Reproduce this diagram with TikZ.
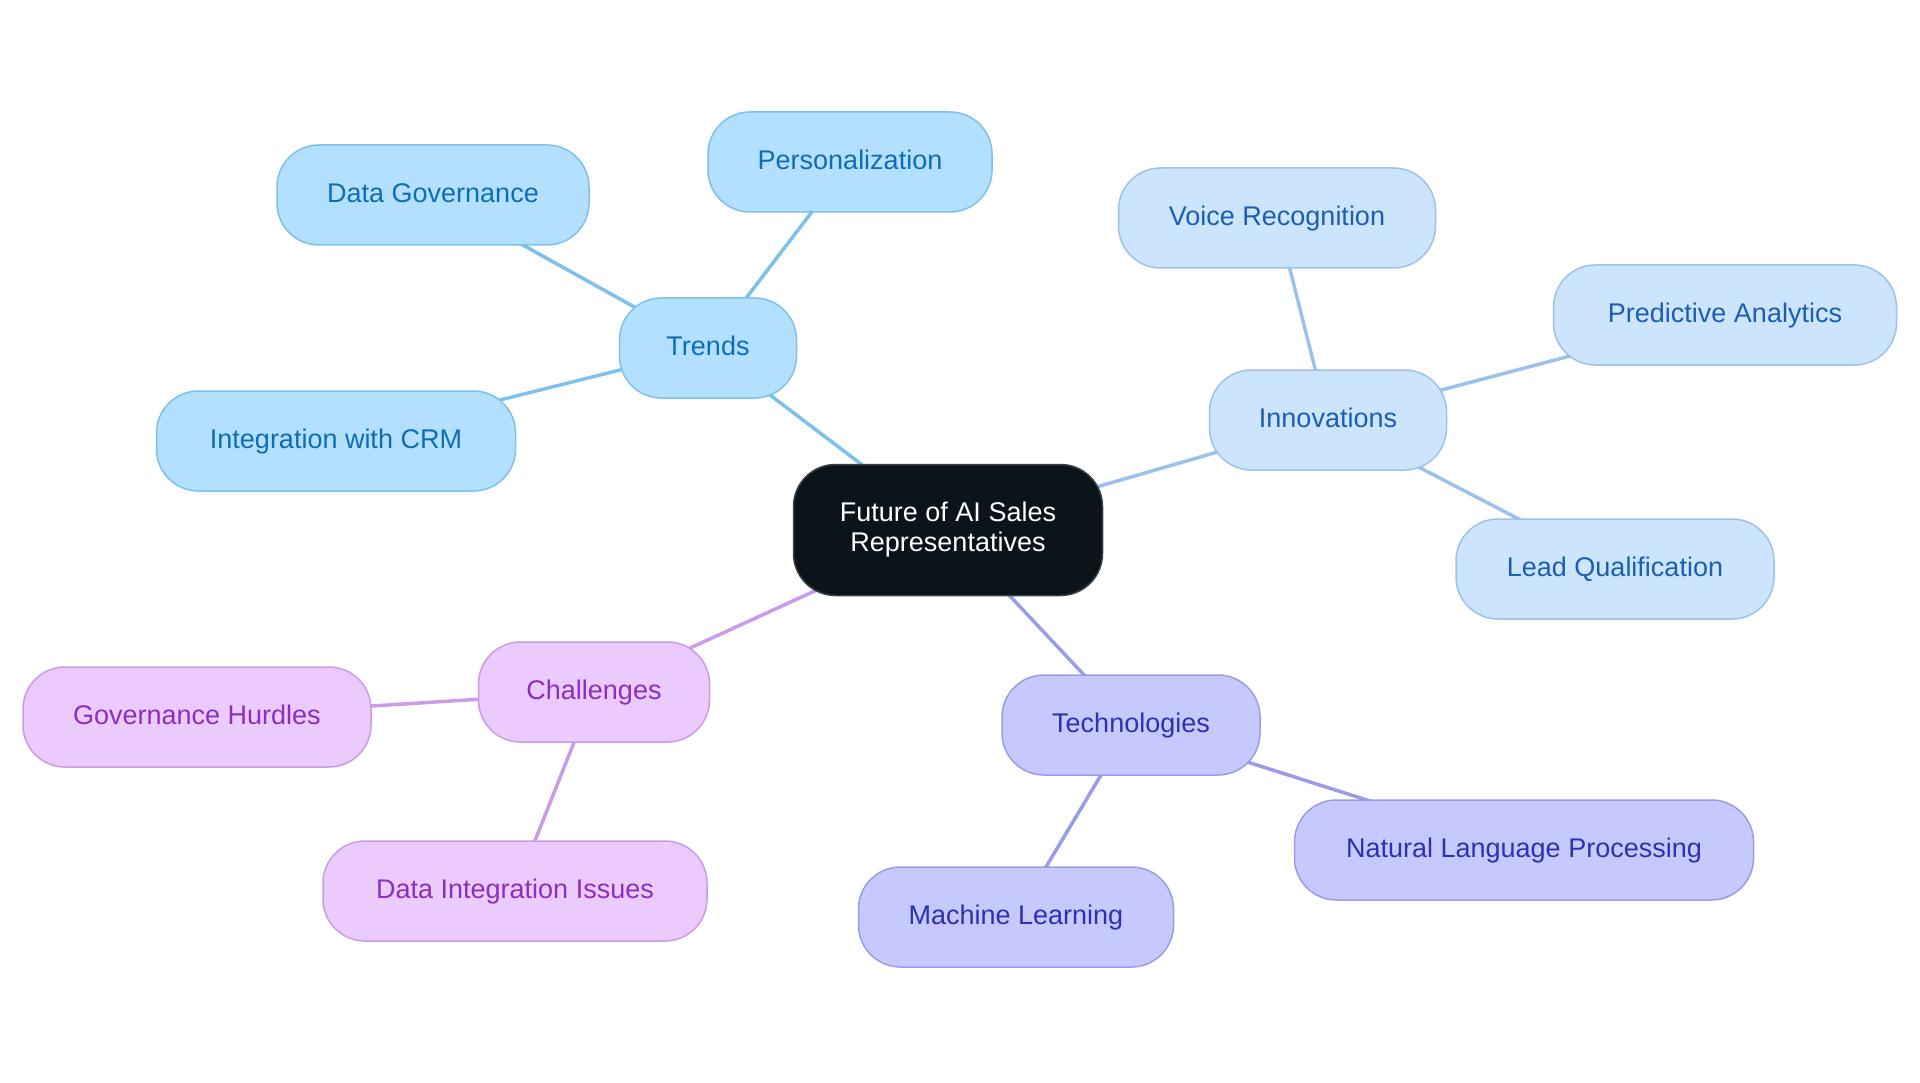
\documentclass[tikz,border=0pt]{standalone}
\usepackage{fontspec}
\setmainfont{Liberation Sans}
\usetikzlibrary{backgrounds}
\definecolor{cfill}{HTML}{0B131B}
\definecolor{cdraw}{HTML}{3A4048}
\definecolor{tfill}{HTML}{B3E0FF}
\definecolor{tdraw}{HTML}{7DC0EC}
\definecolor{ttext}{HTML}{0F6DB6}
\definecolor{ifill}{HTML}{CCE4FC}
\definecolor{idraw}{HTML}{9CC2EC}
\definecolor{itext}{HTML}{1B5FB5}
\definecolor{efill}{HTML}{C6C9FD}
\definecolor{edraw}{HTML}{9A9CE8}
\definecolor{etext}{HTML}{2E31B0}
\definecolor{hfill}{HTML}{EBCAFE}
\definecolor{hdraw}{HTML}{C99BE8}
\definecolor{htext}{HTML}{8A2FC0}
\tikzset{
  base/.style={rectangle, rounded corners=42pt, minimum height=100pt, line width=1.5pt,
    font=\fontsize{27}{30}\selectfont, inner sep=0pt, align=center},
  leaf/.style={base, text height=20pt, text depth=5pt},
  tnode/.style={leaf, fill=tfill, draw=tdraw, text=ttext},
  inode/.style={leaf, fill=ifill, draw=idraw, text=itext},
  enode/.style={leaf, fill=efill, draw=edraw, text=etext},
  hnode/.style={leaf, fill=hfill, draw=hdraw, text=htext},
  tline/.style={draw=tdraw, line width=3.5pt},
  iline/.style={draw=idraw, line width=3.5pt},
  eline/.style={draw=edraw, line width=3.5pt},
  hline/.style={draw=hdraw, line width=3.5pt},
}
\begin{document}
\begin{tikzpicture}[x=1pt,y=-1pt]
\useasboundingbox (0,0) rectangle (1920,1083);
\node[base, rounded corners=42pt, fill=cfill, draw=cdraw, text=white, minimum width=309pt, minimum height=131pt] (c) at (948,530) {Future of AI Sales\\Representatives};
\node[tnode, minimum width=177pt] (tr) at (708,348) {Trends};
\node[tnode, minimum width=284pt] (pe) at (850,162) {Personalization};
\node[tnode, minimum width=312pt] (dg) at (433,195) {Data Governance};
\node[tnode, minimum width=359pt] (ic) at (336,441) {Integration with CRM};
\node[inode, minimum width=237pt] (in) at (1328,420) {Innovations};
\node[inode, minimum width=317pt] (vr) at (1277,218) {Voice Recognition};
\node[inode, minimum width=343pt] (pa) at (1725,315) {Predictive Analytics};
\node[inode, minimum width=318pt] (lq) at (1615,569) {Lead Qualification};
\node[enode, minimum width=258pt] (te) at (1131,725) {Technologies};
\node[enode, minimum width=459pt] (nl) at (1524,850) {Natural Language Processing};
\node[enode, minimum width=315pt] (ml) at (1016,917) {Machine Learning};
\node[hnode, minimum width=231pt] (ch) at (594,692) {Challenges};
\node[hnode, minimum width=348pt] (gh) at (197,717) {Governance Hurdles};
\node[hnode, minimum width=384pt] (di) at (515,891) {Data Integration Issues};
\begin{scope}[on background layer]
\draw[tline] (c.center) -- (tr.center);
\draw[tline] (tr.center) -- (pe.center);
\draw[tline] (tr.center) -- (dg.center);
\draw[tline] (tr.center) -- (ic.center);
\draw[iline] (c.center) -- (in.center);
\draw[iline] (in.center) -- (vr.center);
\draw[iline] (in.center) -- (pa.center);
\draw[iline] (in.center) -- (lq.center);
\draw[eline] (c.center) -- (te.center);
\draw[eline] (te.center) -- (nl.center);
\draw[eline] (te.center) -- (ml.center);
\draw[hline] (c.center) -- (ch.center);
\draw[hline] (ch.center) -- (gh.center);
\draw[hline] (ch.center) -- (di.center);
\end{scope}
\end{tikzpicture}
\end{document}
